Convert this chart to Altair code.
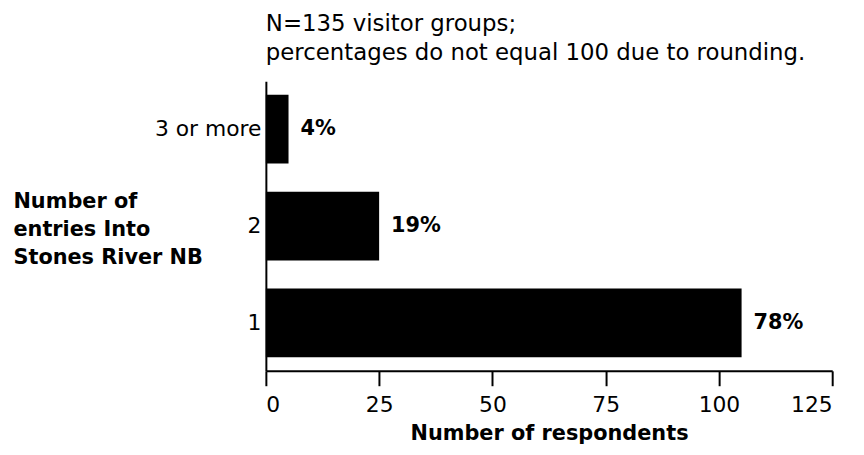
import altair as alt
import pandas as pd

categories = ["3 or more", "2", "1"]
respondents = [5, 25, 105]
pct_labels = ["4%", "19%", "78%"]

df = pd.DataFrame({"cat": categories, "n": respondents, "pct": pct_labels})

FONT = "DejaVu Sans"

y_enc = alt.Y(
    "cat:N",
    sort=categories,
    scale=alt.Scale(paddingInner=0.29, paddingOuter=0.14),
    axis=alt.Axis(
        title=["Number of", "entries Into", "Stones River NB"],
        titleAngle=0,
        titleAlign="left",
        titleBaseline="top",
        titleX=-255,
        titleY=110,
        titleFont=FONT,
        titleFontSize=21,
        titleFontWeight="bold",
        titleColor="black",
        titleLineHeight=28.5,
        labelFont=FONT,
        labelFontSize=22,
        labelColor="black",
        labelPadding=5,
        ticks=False,
        domainColor="black",
        domainWidth=2,
    ),
)

x_enc = alt.X(
    "n:Q",
    scale=alt.Scale(domain=[0, 125], nice=False),
    axis=alt.Axis(
        values=[0, 25, 50, 75, 100, 125],
        title="Number of respondents",
        titleFont=FONT,
        titleFontSize=21,
        titleFontWeight="bold",
        titleColor="black",
        titlePadding=7,
        labelFont=FONT,
        labelFontSize=22,
        labelColor="black",
        labelPadding=9,
        tickSize=15,
        tickColor="black",
        tickWidth=2,
        domainColor="black",
        domainWidth=2,
        grid=False,
    ),
)

bars = alt.Chart(df).mark_bar(color="black").encode(x=x_enc, y=y_enc)

text = alt.Chart(df).mark_text(
    align="left", baseline="middle", dx=12, font=FONT, fontSize=21,
    fontWeight="bold", color="black"
).encode(x="n:Q", y=alt.Y("cat:N", sort=categories), text="pct:N")

chart = (
    alt.layer(bars, text)
    .properties(
        width=571,
        height=292,
        view=alt.ViewBackground(stroke="transparent", strokeWidth=0),
        autosize=alt.AutoSizeParams(type="none"),
        padding={"left": 260, "top": 72, "right": 24, "bottom": 80},
        title=alt.TitleParams(
            text=["N=135 visitor groups;", "percentages do not equal 100 due to rounding."],
            anchor="start",
            frame="group",
            font=FONT,
            fontSize=23,
            fontWeight="normal",
            color="black",
            lineHeight=30,
            offset=16,
        ),
    )
    .configure_view(stroke="transparent", strokeWidth=0)
    .configure(background="white")
)

chart.save("out.html", embed_options={"renderer": "svg", "actions": False})
